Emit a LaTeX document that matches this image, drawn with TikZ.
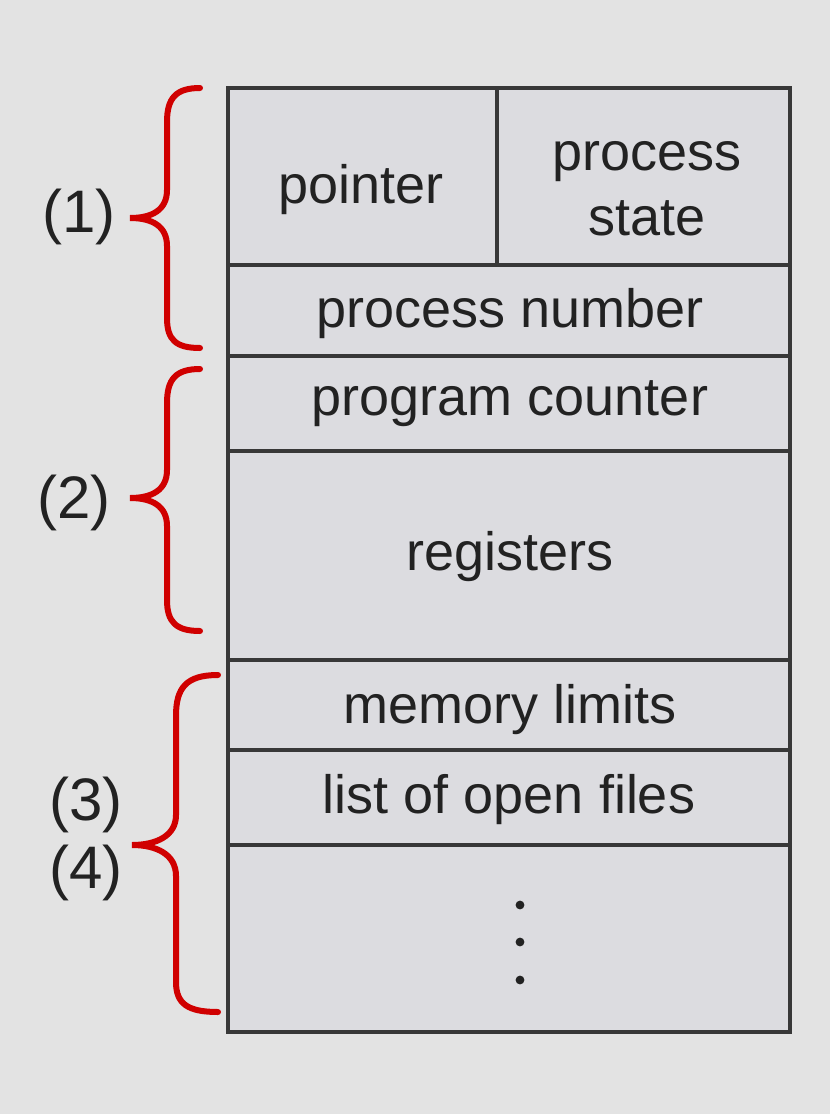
\documentclass[tikz,border=0pt]{standalone}
\usepackage{fontspec}
\setmainfont{Liberation Sans}
\definecolor{bgc}{HTML}{E3E3E3}
\definecolor{cellc}{HTML}{DCDCE0}
\definecolor{linec}{HTML}{383838}
\definecolor{txtc}{HTML}{222222}
\definecolor{bracec}{HTML}{D00000}
\tikzset{
  cell/.style={draw=linec, fill=cellc, line width=2pt, rectangle, inner sep=0pt},
  txt/.style={text=txtc, font=\fontsize{27}{30.5}\selectfont, inner sep=0pt, anchor=base},
  lbl/.style={text=txtc, font=\fontsize{30}{32}\selectfont, inner sep=0pt, anchor=base},
  bracel/.style={draw=bracec, line width=3pt, line cap=round}
}
\begin{document}
\begin{tikzpicture}[x=0.5pt,y=-0.5pt]
\fill[bgc] (0,0) rectangle (830,1114);
\useasboundingbox (0,0) rectangle (830,1114);
% cells
\node[cell, minimum width=134.5pt, minimum height=88.5pt] (ptr) at (362.5,176.5) {};
\node[cell, minimum width=146.5pt, minimum height=88.5pt] (st) at (643.5,176.5) {};
\node[cell, minimum width=281pt, minimum height=45.5pt] (pn) at (509,310.5) {};
\node[cell, minimum width=281pt, minimum height=47.5pt] (pc) at (509,403.5) {};
\node[cell, minimum width=281pt, minimum height=104.5pt] (rg) at (509,555.5) {};
\node[cell, minimum width=281pt, minimum height=45pt] (ml) at (509,705) {};
\node[cell, minimum width=281pt, minimum height=47.5pt] (lf) at (509,797.5) {};
\node[cell, minimum width=281pt, minimum height=93.5pt] (dt) at (509,938.5) {};
% texts
\node[txt] (tptr) at (361,203) {pointer};
\node[txt] (tst1) at (647,170) {process};
\node[txt] (tst2) at (647,235) {state};
\node[txt] (tpn) at (510,327) {process number};
\node[txt] (tpc) at (510,415) {program counter};
\node[txt] (trg) at (510,570) {registers};
\node[txt] (tml) at (510,723) {memory limits};
\node[txt] (tlf) at (509,813) {list of open files};
\fill[txtc] (520,905) circle (2.2pt) (520,942) circle (2.2pt) (520,980) circle (2.2pt);
% braces
\draw[bracel] (200,88) .. controls (176,88) and (167,98) .. (167,122) -- (167,190)
  .. controls (167,210) and (152,218) .. (130,218)
  .. controls (152,218) and (167,226) .. (167,246) -- (167,318)
  .. controls (167,340) and (176,348) .. (200,348);
\draw[bracel] (200,369) .. controls (176,369) and (167,379) .. (167,403) -- (167,470)
  .. controls (167,490) and (152,498) .. (130,498)
  .. controls (152,498) and (167,506) .. (167,526) -- (167,600)
  .. controls (167,622) and (176,631) .. (200,631);
\draw[bracel] (218,675) .. controls (186,675) and (176,688) .. (176,716) -- (176,815)
  .. controls (176,836) and (156,845) .. (132,845)
  .. controls (156,845) and (176,854) .. (176,876) -- (176,982)
  .. controls (176,1004) and (188,1012) .. (218,1012);
% labels
\node[lbl] (l1) at (79,232) {(1)};
\node[lbl] (l2) at (74,518) {(2)};
\node[lbl] (l3) at (86,820) {(3)};
\node[lbl] (l4) at (86,888) {(4)};
\end{tikzpicture}
\end{document}
